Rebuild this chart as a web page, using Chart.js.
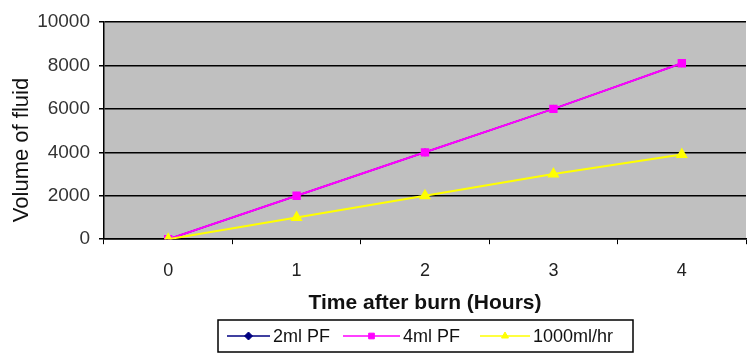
<!DOCTYPE html>
<html>
<head>
<meta charset="utf-8">
<script src="https://cdn.jsdelivr.net/npm/chart.js@4"></script>
<style>
  html, body { margin: 0; padding: 0; background: #fff; }
  #wrap { width: 753px; height: 358px; }
</style>
</head>
<body>
<div id="wrap"><canvas id="fluidChart" width="753" height="358"></canvas></div>
<script>
// hours after burn
const hours = ["0", "1", "2", "3", "4"];
// volumes (ml)
const pf2ml = [0, 2000, 4000, 6000, 8100];
const pf4ml = [0, 2000, 4000, 6000, 8100];
const rate1000 = [0, 1000, 2000, 3000, 3900];
const seriesNames = ["2ml PF", "4ml PF", "1000ml/hr"];
const yTitle = "Volume of fluid";

const FONT = "'Liberation Sans', Arial, sans-serif";

// grey plot background
const plotBg = {
    id: "plotBg",
    beforeDraw(chart) {
        const a = chart.chartArea, ctx = chart.ctx;
        ctx.save();
        ctx.fillStyle = "#c0c0c0";
        ctx.fillRect(a.left, a.top, a.right - a.left, a.bottom - a.top);
        ctx.restore();
    }
};

// y title sits a bit lower than centre in the original
const yTitlePlugin = {
    id: "yTitlePlugin",
    afterDraw(chart) {
        const ctx = chart.ctx;
        ctx.save();
        ctx.translate(22, 150);
        ctx.rotate(-Math.PI / 2);
        ctx.font = "22px " + FONT;
        ctx.fillStyle = "#111";
        ctx.textAlign = "center";
        ctx.textBaseline = "middle";
        ctx.fillText(yTitle, 0, 0);
        ctx.restore();
    }
};

// boxed legend like the excel one, line + marker
const boxLegend = {
    id: "boxLegend",
    afterDraw(chart) {
        const ctx = chart.ctx;
        const x0 = 218, y0 = 320, w = 415, h = 32;
        const starts = [227, 343, 480];
        const lens = [43, 57, 50];
        ctx.save();
        ctx.fillStyle = "#fff";
        ctx.fillRect(x0, y0, w, h);
        ctx.strokeStyle = "#000";
        ctx.lineWidth = 1.5;
        ctx.strokeRect(x0, y0, w, h);
        ctx.font = "18px " + FONT;
        ctx.textBaseline = "middle";
        const cy = y0 + h / 2;
        chart.data.datasets.forEach((ds, i) => {
            const x = starts[i], len = lens[i];
            ctx.strokeStyle = ds.borderColor;
            ctx.lineWidth = 1.5;
            ctx.beginPath();
            ctx.moveTo(x, cy);
            ctx.lineTo(x + len, cy);
            ctx.stroke();
            ctx.fillStyle = ds.pointBackgroundColor;
            ctx.strokeStyle = ds.pointBackgroundColor;
            ctx.lineWidth = 1;
            Chart.helpers.drawPoint(ctx, {
                pointStyle: ds.pointStyle, radius: 4, borderWidth: 1, rotation: 0
            }, x + len / 2, cy);
            ctx.fillStyle = "#111";
            ctx.fillText(ds.label, x + len + 3, cy + 1);
        });
        ctx.restore();
    }
};

new Chart(document.getElementById("fluidChart"), {
    type: "line",
    data: {
        labels: hours,
        datasets: [{
            label: seriesNames[0],
            data: pf2ml,
            borderColor: "#000080",
            pointBackgroundColor: "#000080",
            pointBorderColor: "#000080",
            pointStyle: "rectRot",
            pointRadius: 3,
            borderWidth: 1.5,
            order: 3
        }, {
            label: seriesNames[1],
            data: pf4ml,
            borderColor: "#ff00ff",
            pointBackgroundColor: "#ff00ff",
            pointBorderColor: "#ff00ff",
            pointStyle: "rect",
            pointRadius: 4.5,
            borderWidth: 2,
            order: 2
        }, {
            label: seriesNames[2],
            data: rate1000,
            borderColor: "#ffff00",
            pointBackgroundColor: "#ffff00",
            pointBorderColor: "#ffff00",
            pointStyle: "triangle",
            pointRadius: 5,
            borderWidth: 2,
            order: 1
        }]
    },
    options: {
        responsive: false,
        animation: false,
        layout: { padding: { top: 22, right: 7, bottom: 42, left: 0 } },
        plugins: {
            legend: { display: false },
            tooltip: { enabled: false }
        },
        scales: {
            x: {
                offset: true,
                grid: {
                    offset: true,
                    drawOnChartArea: false,
                    drawTicks: true,
                    tickLength: 5,
                    color: "#000"
                },
                border: { color: "#000", width: 1.5 },
                ticks: { color: "#222", font: { family: FONT, size: 18 }, padding: 16 },
                title: {
                    display: true,
                    text: "Time after burn (Hours)",
                    color: "#111",
                    font: { family: FONT, size: 21, weight: "bold" },
                    padding: { top: -7, bottom: 0 }
                }
            },
            y: {
                min: 0,
                max: 10000,
                ticks: {
                    stepSize: 2000,
                    color: "#333",
                    font: { family: FONT, size: 19 },
                    padding: 9,
                    callback: (v) => String(v)
                },
                grid: { color: "#000", lineWidth: 1.5, tickLength: 5 },
                border: { color: "#000", width: 1.5 },
                afterFit(scale) { scale.width = 104; }
            }
        }
    },
    plugins: [plotBg, yTitlePlugin, boxLegend]
});
</script>
</body>
</html>
